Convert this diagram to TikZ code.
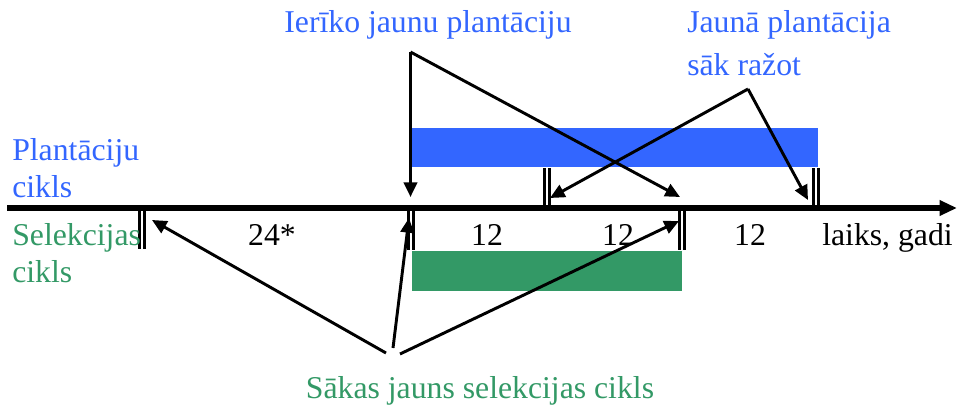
\documentclass[tikz,border=0pt]{standalone}
\usepackage{fontspec}
\setmainfont{Liberation Serif}
\usetikzlibrary{arrows.meta}
\definecolor{pblue}{HTML}{3366FF}
\definecolor{sgreen}{HTML}{339966}
\begin{document}
\begin{tikzpicture}[x=0.75pt,y=-0.75pt,
  lbl/.style={inner sep=0pt,font=\fontsize{23.8}{28}\selectfont},
  bl/.style={lbl,text=pblue},
  gr/.style={lbl,text=sgreen},
  arr/.style={line width=2.2pt,-{Triangle[length=11pt,width=10pt]}},
  mark2/.style={line width=1.9pt}]
\useasboundingbox (0,0) rectangle (957,410);
% bars
\fill[pblue] (412,128) rectangle (818,167);
\fill[sgreen] (412,251) rectangle (682,291);
% axis
\coordinate (a0) at (7,208);
\coordinate (a1) at (957,208);
\draw[line width=4pt,-{Triangle[length=13pt,width=11pt]}] (a0) -- (a1);
% markers
\foreach \x/\ya/\yb in {142/210/249, 411/210/250, 682/210/250, 547/168/207, 816/168/207}{
  \draw[mark2] (\x-2.5,\ya) -- (\x-2.5,\yb);
  \draw[mark2] (\x+2.5,\ya) -- (\x+2.5,\yb);
}
% texts
\node[bl,anchor=base] (t1) at (428,33) {Ierīko jaunu plantāciju};
\node[bl,anchor=base west] (t2) at (687,33) {Jaunā plantācija};
\node[bl,anchor=base west] (t3) at (687,75) {sāk ražot};
\node[bl,anchor=base west] (pc1) at (12,160) {Plantāciju};
\node[bl,anchor=base west] (pc2) at (12,197) {cikls};
\node[gr,anchor=base west] (sc1) at (12,245) {Selekcijas};
\node[gr,anchor=base west] (sc2) at (12,282) {cikls};
\node[lbl,anchor=base] (n24) at (272,245) {24*};
\node[lbl,anchor=base] (n12a) at (487,245) {12};
\node[lbl,anchor=base] (n12b) at (618,245) {12};
\node[lbl,anchor=base] (n12c) at (750,245) {12};
\node[lbl,anchor=base west] (lg) at (822,245) {laiks, gadi};
\node[gr,anchor=base] (t4) at (480,398) {Sākas jauns selekcijas cikls};
% arrow points
\coordinate (p1) at (410.5,52);
\coordinate (p1a) at (410.5,197);
\coordinate (p1b) at (680,197);
\coordinate (p2) at (748,89);
\coordinate (p2a) at (550,198);
\coordinate (p2b) at (808,200);
\coordinate (q1) at (386,353);
\coordinate (q2) at (393,348);
\coordinate (q3) at (400,354);
\coordinate (q1a) at (152,220);
\coordinate (q2a) at (409,218);
\coordinate (q3a) at (679,221);
\draw[arr] (p1) -- (p1a);
\draw[arr] (p1) -- (p1b);
\draw[arr] (p2) -- (p2a);
\draw[arr] (p2) -- (p2b);
\draw[arr] (q1) -- (q1a);
\draw[arr] (q2) -- (q2a);
\draw[arr] (q3) -- (q3a);
\end{tikzpicture}
\end{document}
